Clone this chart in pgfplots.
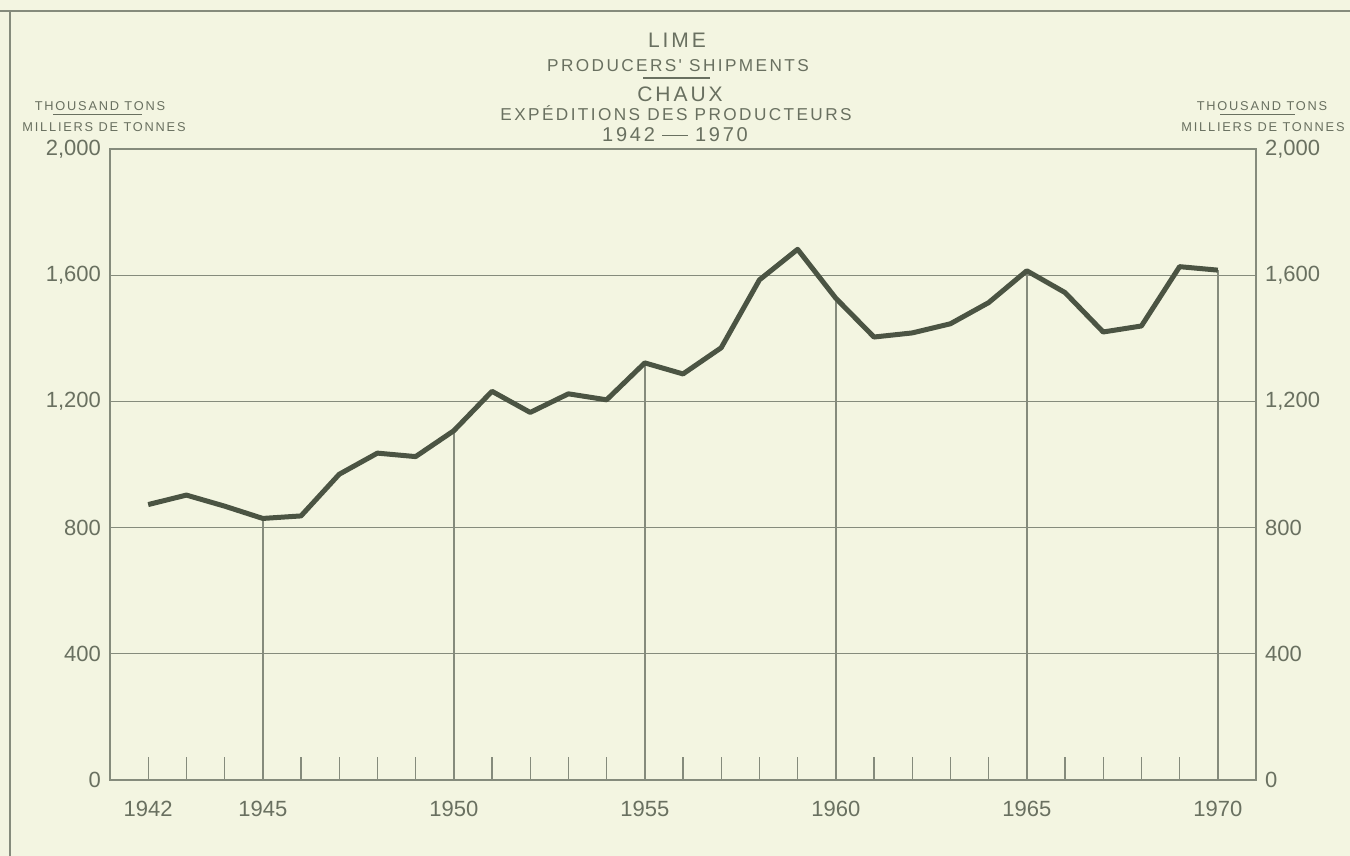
\documentclass[border=0pt]{standalone}
\usepackage{fontspec}
\setmainfont{Liberation Sans}
\newfontfamily\lettering[LetterSpace=14]{Liberation Sans}
\usepackage{pgfplots}
\usepackage{pgfplotstable}
\pgfplotsset{compat=1.18}
\definecolor{bg}{HTML}{F3F5E1}
\definecolor{ink}{HTML}{4B5443}
\definecolor{txt}{HTML}{697060}
\definecolor{grd}{HTML}{858B7C}
\newcommand{\pxy}[2]{({#1*0.5pt},{(856-#2)*0.5pt})}

\pgfplotstableread{
year val
1942 873
1943 903
1944 868
1945 829
1946 837
1947 969
1948 1036
1949 1025
1950 1107
1951 1232
1952 1165
1953 1224
1954 1205
1955 1322
1956 1287
1957 1370
1958 1585
1959 1682
1960 1527
1961 1404
1962 1417
1963 1446
1964 1513
1965 1614
1966 1545
1967 1420
1968 1439
1969 1627
1970 1616
}\limedata

\begin{document}
\begin{tikzpicture}
\fill[bg] (0,0) rectangle (675pt,428pt);
\path[use as bounding box] (0,0) rectangle (675pt,428pt);
\draw[grd, line width=1pt] \pxy{0}{11} -- \pxy{1350}{11};
\draw[grd, line width=1pt] \pxy{10}{11} -- \pxy{10}{856};

% titles
\node[txt, anchor=base, font=\lettering\fontsize{10.5}{12}\selectfont] at \pxy{677}{48} {LIME};
\node[txt, anchor=base, font=\lettering\fontsize{8.6}{10}\selectfont] at \pxy{678}{72} {PRODUCERS' SHIPMENTS};
\draw[txt, line width=0.6pt] \pxy{643}{78} -- \pxy{710}{78};
\node[txt, anchor=base, font=\lettering\fontsize{10.5}{12}\selectfont] at \pxy{680}{102} {CHAUX};
\node[txt, anchor=base, font=\lettering\fontsize{8.6}{10}\selectfont] at \pxy{676}{121} {EXPÉDITIONS DES PRODUCTEURS};
\node[txt, anchor=base, font=\lettering\fontsize{10}{12}\selectfont] at \pxy{675}{142} {1942\hspace{0.35em}\rule[0.3em]{1.3em}{0.6pt}\hspace{0.35em}1970};

% unit labels
\node[txt, anchor=base, font=\lettering\fontsize{6.4}{8}\selectfont] at \pxy{100}{111} {THOUSAND TONS};
\draw[txt, line width=0.5pt] \pxy{53}{115} -- \pxy{142}{115};
\node[txt, anchor=base, font=\lettering\fontsize{6.4}{8}\selectfont] at \pxy{104}{132} {MILLIERS DE TONNES};
\node[txt, anchor=base, font=\lettering\fontsize{6.4}{8}\selectfont] at \pxy{1262}{111} {THOUSAND TONS};
\draw[txt, line width=0.5pt] \pxy{1220}{115} -- \pxy{1295}{115};
\node[txt, anchor=base, font=\lettering\fontsize{6.4}{8}\selectfont] at \pxy{1263}{132} {MILLIERS DE TONNES};

\begin{axis}[
  at={(55pt,38pt)}, anchor=south west,
  scale only axis, width=573pt, height=315.5pt,
  xmin=1941, xmax=1971, ymin=0, ymax=2000,
  axis line style={grd, line width=0.8pt},
  xtick={1942,1945,1950,1955,1960,1965,1970},
  xticklabels={1942,1945,1950,1955,1960,1965,1970},
  minor xtick={1943,1944,1946,1947,1948,1949,1951,1952,1953,1954,1956,1957,1958,1959,1961,1962,1963,1964,1966,1967,1968,1969},
  xtick pos=left,
  tick align=inside,
  major tick length=11.5pt, minor tick length=11.5pt,
  xtick style={grd, line width=0.7pt},
  ytick={0,400,800,1200,1600,2000},
  ytick style={draw=none},
  ymajorgrids, grid style={grd, line width=0.6pt},
  /pgf/number format/assume math mode=true,
  /pgf/number format/1000 sep={,},
  ticklabel style={txt, font=\fontsize{11}{13}\selectfont},
  xticklabel style={yshift=-7pt},
  yticklabel style={xshift=-1pt},
]
\addplot[ycomb, grd, line width=0.7pt, no marks] coordinates {
(1945,829) (1950,1107) (1955,1322) (1960,1527) (1965,1614) (1970,1616)};
\addplot[ink, line width=2.5pt, line join=round, no marks] table[x=year, y=val] {\limedata};
\end{axis}

\begin{axis}[
  at={(55pt,38pt)}, anchor=south west,
  scale only axis, width=573pt, height=315.5pt,
  xmin=1941, xmax=1971, ymin=0, ymax=2000,
  axis y line*=right, hide x axis,
  axis line style={grd, line width=0.8pt},
  ytick={0,400,800,1200,1600,2000},
  ytick style={draw=none},
  /pgf/number format/assume math mode=true,
  /pgf/number format/1000 sep={,},
  ticklabel style={txt, font=\fontsize{11}{13}\selectfont},
  yticklabel style={xshift=1pt},
]
\addplot[draw=none] coordinates {(1941,0)};
\end{axis}
\end{tikzpicture}
\end{document}
